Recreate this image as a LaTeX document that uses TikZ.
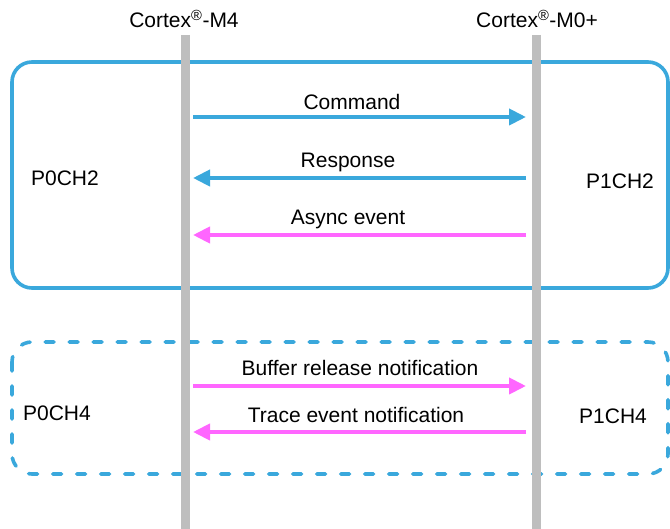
\documentclass[tikz,border=0pt]{standalone}
\usepackage{fontspec}
\setmainfont{Liberation Sans}
\usetikzlibrary{arrows.meta}
\definecolor{chblue}{HTML}{3AA8DC}
\definecolor{chpink}{HTML}{FF66FF}
\definecolor{lifegray}{HTML}{BEBEBE}
\tikzset{
  lbl/.style={font=\fontsize{21}{24}\selectfont, inner sep=0pt, anchor=center},
  life/.style={draw=lifegray, line width=9pt},
  chbox/.style={draw=chblue, line width=3.6pt, rounded corners=20pt},
  chdash/.style={chbox, dash pattern=on 9pt off 15pt, line cap=round},
  msgb/.style={draw=chblue, line width=4pt, -{Triangle[length=17pt,width=16pt]}},
  msgp/.style={draw=chpink, line width=4pt, -{Triangle[length=17pt,width=16pt]}},
}
\begin{document}
\begin{tikzpicture}[x=1pt,y=-1pt]
\useasboundingbox (0,0) rectangle (670,529);
% channel boxes
\draw[chbox] (12,62) rectangle (668,288);
\draw[chdash] (12,342) rectangle (668,474);
% lifelines
\coordinate (l0) at (185,35);
\coordinate (l1) at (185,529);
\coordinate (r0) at (536,35);
\coordinate (r1) at (536,529);
\draw[life] (l0) -- (l1);
\draw[life] (r0) -- (r1);
% headers
\node[lbl] (hm4) at (184,19) {Cortex\textsuperscript{®}-M4};
\node[lbl] (hm0) at (537,19) {Cortex\textsuperscript{®}-M0+};
% channel labels
\node[lbl] (p0ch2) at (65,178) {P0CH2};
\node[lbl] (p1ch2) at (620,181) {P1CH2};
\node[lbl] (p0ch4) at (57,413) {P0CH4};
\node[lbl] (p1ch4) at (613,416) {P1CH4};
% message end points
\coordinate (a1l) at (193,117); \coordinate (a1r) at (526,117);
\coordinate (a2l) at (193,178); \coordinate (a2r) at (526,178);
\coordinate (a3l) at (193,235); \coordinate (a3r) at (526,235);
\coordinate (a4l) at (193,386); \coordinate (a4r) at (526,386);
\coordinate (a5l) at (193,432); \coordinate (a5r) at (526,432);
\draw[msgb] (a1l) -- (a1r);
\draw[msgb] (a2r) -- (a2l);
\draw[msgp] (a3r) -- (a3l);
\draw[msgp] (a4l) -- (a4r);
\draw[msgp] (a5r) -- (a5l);
% message labels
\node[lbl] (t1) at (352,102) {Command};
\node[lbl] (t2) at (348,162) {Response};
\node[lbl] (t3) at (348,219) {Async event};
\node[lbl] (t4) at (360,368) {Buffer release notification};
\node[lbl] (t5) at (356,415) {Trace event notification};
\end{tikzpicture}
\end{document}
